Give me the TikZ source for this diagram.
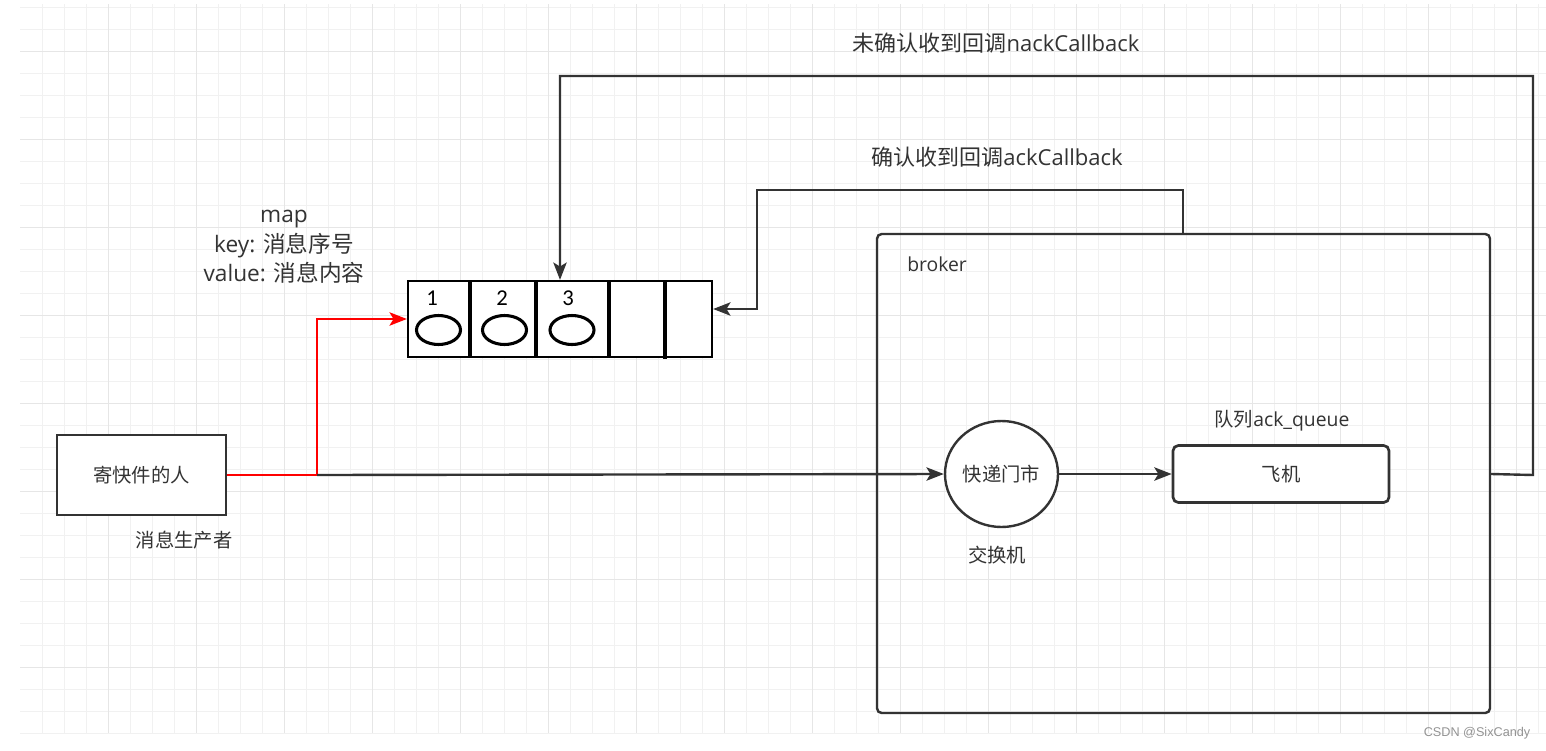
\documentclass[tikz,border=0pt]{standalone}
\usepackage{fontspec}
\setmainfont{Open Sans}
\newfontfamily\cjk{Noto Sans CJK SC}
\newfontfamily\numfont{Carlito}
\newfontfamily\wmfont{Liberation Sans}
\usetikzlibrary{arrows.meta,shapes.geometric}
\definecolor{ink}{HTML}{333333}
\definecolor{gminor}{HTML}{F1F1F1}
\definecolor{gmajor}{HTML}{E6E6E6}
\definecolor{redline}{HTML}{FF0000}
\tikzset{
  gridminor/.style={draw=gminor,line width=0.9pt},
  gridmajor/.style={draw=gmajor,line width=0.9pt},
  conn/.style={draw=ink,line width=1.8pt,-{Stealth[length=13pt,width=10pt,inset=3pt]}},
  redconn/.style={draw=redline,line width=1.9pt,-{Stealth[length=13pt,width=10pt,inset=3pt]}},
  lbl/.style={text=ink,font=\fontsize{14.5pt}{16pt}\selectfont,inner sep=0pt},
  toplbl/.style={text=ink,font=\fontsize{16.5pt}{18pt}\selectfont,inner sep=0pt},
  biglbl/.style={text=ink,font=\fontsize{17pt}{22pt}\selectfont,inner sep=0pt,align=center},
  boxnode/.style={draw=ink,line width=2pt,fill=white,minimum width=126.75pt,minimum height=60pt,inner sep=0pt,text=ink,font=\fontsize{14.5pt}{16pt}\selectfont},
  rboxnode/.style={draw=ink,line width=2pt,rounded corners=4pt,fill=white,minimum width=162pt,minimum height=42.75pt,inner sep=0pt,text=ink,font=\fontsize{14.5pt}{16pt}\selectfont},
  brokernode/.style={draw=ink,line width=1.8pt,rounded corners=3.5pt,minimum width=459.75pt,minimum height=359.25pt,inner sep=0pt},
  exnode/.style={draw=ink,line width=1.8pt,ellipse,fill=white,minimum width=84.75pt,minimum height=79.5pt,inner sep=0pt,text=ink,font=\fontsize{14.5pt}{16pt}\selectfont},
  arraynode/.style={draw=black,line width=1.7pt,fill=white,minimum width=228pt,minimum height=57pt,inner sep=0pt},
  divider/.style={draw=black,line width=2.4pt},
  egg/.style={draw=black,line width=2.3pt,ellipse,minimum width=33pt,minimum height=21.75pt,inner sep=0pt},
  numlbl/.style={text=black,font=\numfont\fontsize{17pt}{19pt}\selectfont,inner sep=0pt}
}
\begin{document}
\begin{tikzpicture}[x=0.75pt,y=-0.75pt]
\useasboundingbox (0,0) rectangle (1546,750);
\fill[white] (0,0) rectangle (1546,750);
% grid
\foreach \i in {0,...,68} {\draw[gridminor] ({42.3+22*\i},4) -- ({42.3+22*\i},733);}
\foreach \j in {0,...,33} {\draw[gridminor] (20,{7.3+22*\j}) -- (1546,{7.3+22*\j});}
\foreach \i in {0,...,17} {\draw[gridmajor] ({108.3+88*\i},4) -- ({108.3+88*\i},733);}
\foreach \j in {0,...,7} {\draw[gridmajor] (20,{51.3+88*\j}) -- (1546,{51.3+88*\j});}

% broker
\node[brokernode] (brk) at (1183.5,473.5) {};
\node[lbl,anchor=west] (brklbl) at (907,264) {broker};

% sender
\node[boxnode] (snd) at (141.5,475) {\cjk 寄快件的人};
\node[lbl] (sndlbl) at (184,540) {\cjk 消息生产者};

% exchange
\node[exnode] (ex) at (1001.5,474) {\cjk 快递门市};
\node[lbl] (exlbl) at (997,555) {\cjk 交换机};

% queue
\node[rboxnode] (q) at (1281,474) {\cjk 飞机};
\node[lbl] (qlbl) at (1282,421) {{\cjk 队列}ack\_queue};

% array
\node[arraynode] (arr) at (560,319) {};
\draw[divider] (470,281) -- (470,357);
\draw[divider] (536,281) -- (536,357);
\draw[divider] (609,281) -- (609,357);
\draw[divider] (665,281) -- (665,359);
\node[egg] (e1) at (438.5,330) {};
\node[egg] (e2) at (504.5,330) {};
\node[egg] (e3) at (572,330) {};
\node[numlbl] (n1) at (432,298) {1};
\node[numlbl] (n2) at (502,298) {2};
\node[numlbl] (n3) at (568,298) {3};
\node[biglbl] (maplbl) at (284,247) {map\\key: {\cjk 消息序号}\\value: {\cjk 消息内容}};

% connectors
\coordinate (j) at (317,475);
\draw[redconn] (snd.east) -- (j) |- (arr.west);
\draw[conn] (j) -- (ex.west);
\draw[conn] (ex.east) -- (q.west);

\coordinate (nackR) at (1533,475);
\coordinate (nackTop) at (1533,76);
\draw[conn] (brk.east |- q.east) -- (nackR) -- (nackTop) -| (arr.north);
\node[toplbl] (nacklbl) at (996,43) {{\cjk 未确认收到回调}nackCallback};

\coordinate (ackS) at (1183,234);
\coordinate (ackT) at (1183,190);
\coordinate (ackL) at (757,190);
\coordinate (ackD) at (757,309);
\draw[conn] (ackS) -- (ackT) -- (ackL) -- (ackD) -- (ackD -| arr.east);
\node[toplbl] (acklbl) at (997,157) {{\cjk 确认收到回调}ackCallback};

% watermark
\node[text=gray!85,font=\wmfont\fontsize{9.5pt}{11pt}\selectfont,inner sep=0pt] (wm) at (1477,733) {CSDN @SixCandy};
\end{tikzpicture}
\end{document}
